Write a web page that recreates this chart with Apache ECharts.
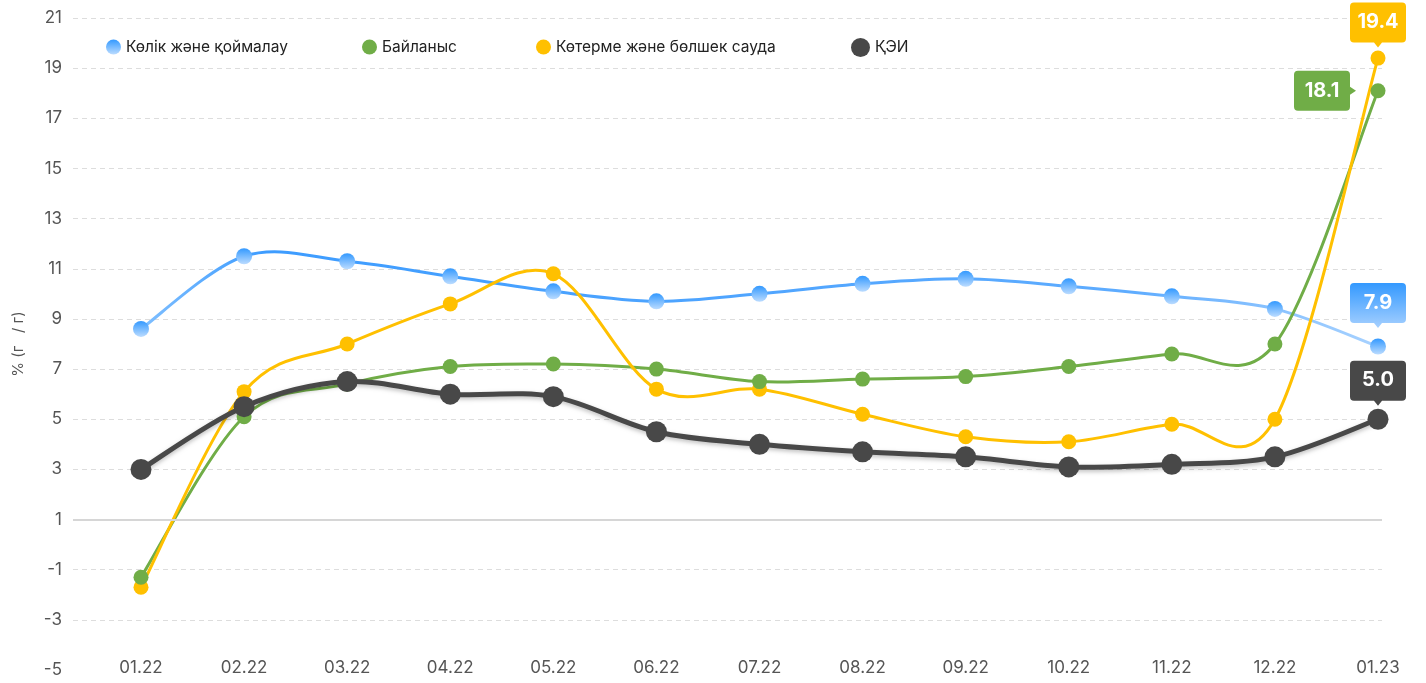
<!DOCTYPE html>
<html><head><meta charset="utf-8">
<script src="https://cdn.jsdelivr.net/npm/echarts@6/dist/echarts.min.js"></script>
<style>html,body{margin:0;padding:0;background:#fff}#c{width:1426px;height:683px}</style>
</head><body><div id="c"></div>
<script>
const categories = ['01.22','02.22','03.22','04.22','05.22','06.22','07.22','08.22','09.22','10.22','11.22','12.22','01.23'];
const seriesNames = ['Көлік және қоймалау','Байланыс','Көтерме және бөлшек сауда','ҚЭИ'];
const transport = [8.6,11.5,11.3,10.7,10.1,9.7,10.0,10.4,10.6,10.3,9.9,9.4,7.9];
const communication = [-1.3,5.1,6.4,7.1,7.2,7.0,6.5,6.6,6.7,7.1,7.6,8.0,18.1];
const trade = [-1.7,6.1,8.0,9.6,10.8,6.2,6.2,5.2,4.3,4.1,4.8,5.0,19.4];
const cpi = [3.0,5.5,6.5,6.0,5.9,4.5,4.0,3.7,3.5,3.1,3.2,3.5,5.0];
const yMin = -5, yMax = 21, yStep = 2;
const yAxisName = '% (г   / г)';

const FONT = 'Inter, "Noto Sans", sans-serif';
const blueDot = new echarts.graphic.LinearGradient(0,0,0,1,[{offset:0,color:'#3399ff'},{offset:1,color:'#bcdcff'}]);
const blueBox = new echarts.graphic.LinearGradient(0,0,0,1,[{offset:0,color:'#3399ff'},{offset:1,color:'#a6d0ff'}]);
const blueStops = [{offset:0,color:'#80bfff'},{offset:0.1,color:'#3d9cff'},{offset:0.8,color:'#5eacff'},{offset:1,color:'#a8d2ff'}];

const downBox = 'path://M4,0 H52 Q56,0 56,4 V36 Q56,40 52,40 H32 L28,45 L24,40 H4 Q0,40 0,36 V4 Q0,0 4,0 Z';
const rightBox = 'path://M4,0 H52 Q56,0 56,4 V16 L62,20 L56,24 V36 Q56,40 52,40 H4 Q0,40 0,36 V4 Q0,0 4,0 Z';

function callout(data, color, symbol, size, offset, labelOffset){
  const last = data.length - 1;
  return {
    symbol: symbol, symbolSize: size, silent: true,
    itemStyle: {color: color},
    label: {show: true, position: 'inside', offset: labelOffset, color: '#fff', fontSize: 20, fontWeight: 'bold', fontFamily: FONT,
      formatter: p => p.value.toFixed(1)},
    data: [{coord: [categories[last], data[last]], value: data[last], symbolOffset: offset}]
  };
}

// Catmull-Rom curve segments drawn through the chart's own scales (api.coord)
function curve(name, vals, stroke, width, z, shadow){
  const n = vals.length;
  return {
    name: name, type: 'custom', z: z, silent: true,
    data: vals.map((v, i) => [i, v]),
    encode: {x: 0, y: 1},
    renderItem: (params, api) => {
      const i = params.dataIndex;
      if (i >= n - 1) return null;
      const P = j => { const k = Math.max(0, Math.min(n - 1, j)); return api.coord([k, vals[k]]); };
      const p0 = P(i - 1), p1 = P(i), p2 = P(i + 1), p3 = P(i + 2);
      const t = 1 / 6;
      let s = stroke;
      if (typeof stroke === 'function') s = stroke(P(0)[0], P(n - 1)[0]);
      const style = {stroke: s, lineWidth: width, fill: null, lineCap: 'round'};
      if (shadow) Object.assign(style, shadow);
      return {
        type: 'bezierCurve',
        shape: {
          x1: p1[0], y1: p1[1], x2: p2[0], y2: p2[1],
          cpx1: p1[0] + (p2[0] - p0[0]) * t, cpy1: p1[1] + (p2[1] - p0[1]) * t,
          cpx2: p2[0] - (p3[0] - p1[0]) * t, cpy2: p2[1] - (p3[1] - p1[1]) * t
        },
        style: style
      };
    }
  };
}

const blueStroke = (x0, x1) => new echarts.graphic.LinearGradient(x0, 0, x1, 0, blueStops, true);
const legendText = {fontSize: 15.5, color: '#222', fontFamily: FONT};
function legendItem(name, left, top, size){
  return {data: [name], left: left, top: top, itemWidth: size, itemHeight: size, icon: 'circle', textStyle: legendText};
}

const chart = echarts.init(document.getElementById('c'));
chart.setOption({
  animation: false,
  textStyle: {fontFamily: FONT},
  grid: [
    {left: 141, right: 48, top: 18, bottom: 13},
    {left: 73, right: 44, top: 18, bottom: 13}
  ],
  legend: [
    legendItem(seriesNames[0], 101, 34, 15),
    legendItem(seriesNames[1], 357, 34, 15),
    legendItem(seriesNames[2], 531, 34, 15),
    legendItem(seriesNames[3], 846, 33, 19)
  ],
  xAxis: [
    {type: 'category', gridIndex: 0, data: categories, boundaryGap: false, offset: -19,
      axisLine: {show: false}, axisTick: {show: false},
      axisLabel: {fontSize: 17, color: '#555', margin: 8, fontFamily: FONT}},
    {type: 'category', gridIndex: 1, data: categories, show: false}
  ],
  yAxis: [
    {type: 'value', gridIndex: 0, min: yMin, max: yMax, interval: yStep, show: false, splitLine: {show: false}},
    {type: 'value', gridIndex: 1, min: yMin, max: yMax, interval: yStep,
      name: yAxisName, nameLocation: 'middle', nameGap: 47,
      nameTextStyle: {fontSize: 15, color: '#555', fontFamily: FONT},
      axisLine: {show: false}, axisTick: {show: false},
      axisLabel: {fontSize: 17, color: '#555', margin: 11, fontFamily: FONT},
      splitLine: {show: true, lineStyle: {type: [5,4], width: 1,
        color: ['rgba(0,0,0,0)','#ddd','#ddd','rgba(0,0,0,0)','#ddd','#ddd','#ddd','#ddd','#ddd','#ddd','#ddd','#ddd','#ddd','#ddd']}}}
  ],
  series: [
    {type: 'line', xAxisIndex: 1, yAxisIndex: 1, data: categories.map(() => null), silent: true,
      markLine: {silent: true, symbol: 'none', label: {show: false},
        lineStyle: {color: '#d6d6d6', type: 'solid', width: 2}, data: [{yAxis: 1}]}},

    {name: seriesNames[0], type: 'line', data: transport, z: 3,
      symbol: 'circle', symbolSize: 16,
      lineStyle: {width: 0, opacity: 0}, itemStyle: {color: blueDot},
      markPoint: callout(transport, blueBox, downBox, [56,45], [0,-41], [0,-3])},
    curve(seriesNames[0], transport, blueStroke, 3, 2),

    {name: seriesNames[1], type: 'line', data: communication, z: 5,
      symbol: 'circle', symbolSize: 15,
      lineStyle: {width: 0, opacity: 0}, itemStyle: {color: '#70ad47'},
      markPoint: callout(communication, '#70ad47', rightBox, [62,40], [-53,0], [-3,0])},
    curve(seriesNames[1], communication, '#70ad47', 3, 2),

    {name: seriesNames[2], type: 'line', data: trade, z: 4,
      symbol: 'circle', symbolSize: 15,
      lineStyle: {width: 0, opacity: 0}, itemStyle: {color: '#ffc000'},
      markPoint: callout(trade, '#ffc000', downBox, [56,45], [0,-33], [0,-3])},
    curve(seriesNames[2], trade, '#ffc000', 3, 2),

    {name: seriesNames[3], type: 'line', data: cpi, z: 6,
      symbol: 'circle', symbolSize: 21,
      lineStyle: {width: 0, opacity: 0}, itemStyle: {color: '#484848'},
      markPoint: callout(cpi, '#484848', downBox, [56,45], [0,-36], [0,-3])},
    curve(seriesNames[3], cpi, '#484848', 5, 2, {shadowColor: 'rgba(0,0,0,0.25)', shadowBlur: 4, shadowOffsetY: 2})
  ]
});
</script>
</body></html>
